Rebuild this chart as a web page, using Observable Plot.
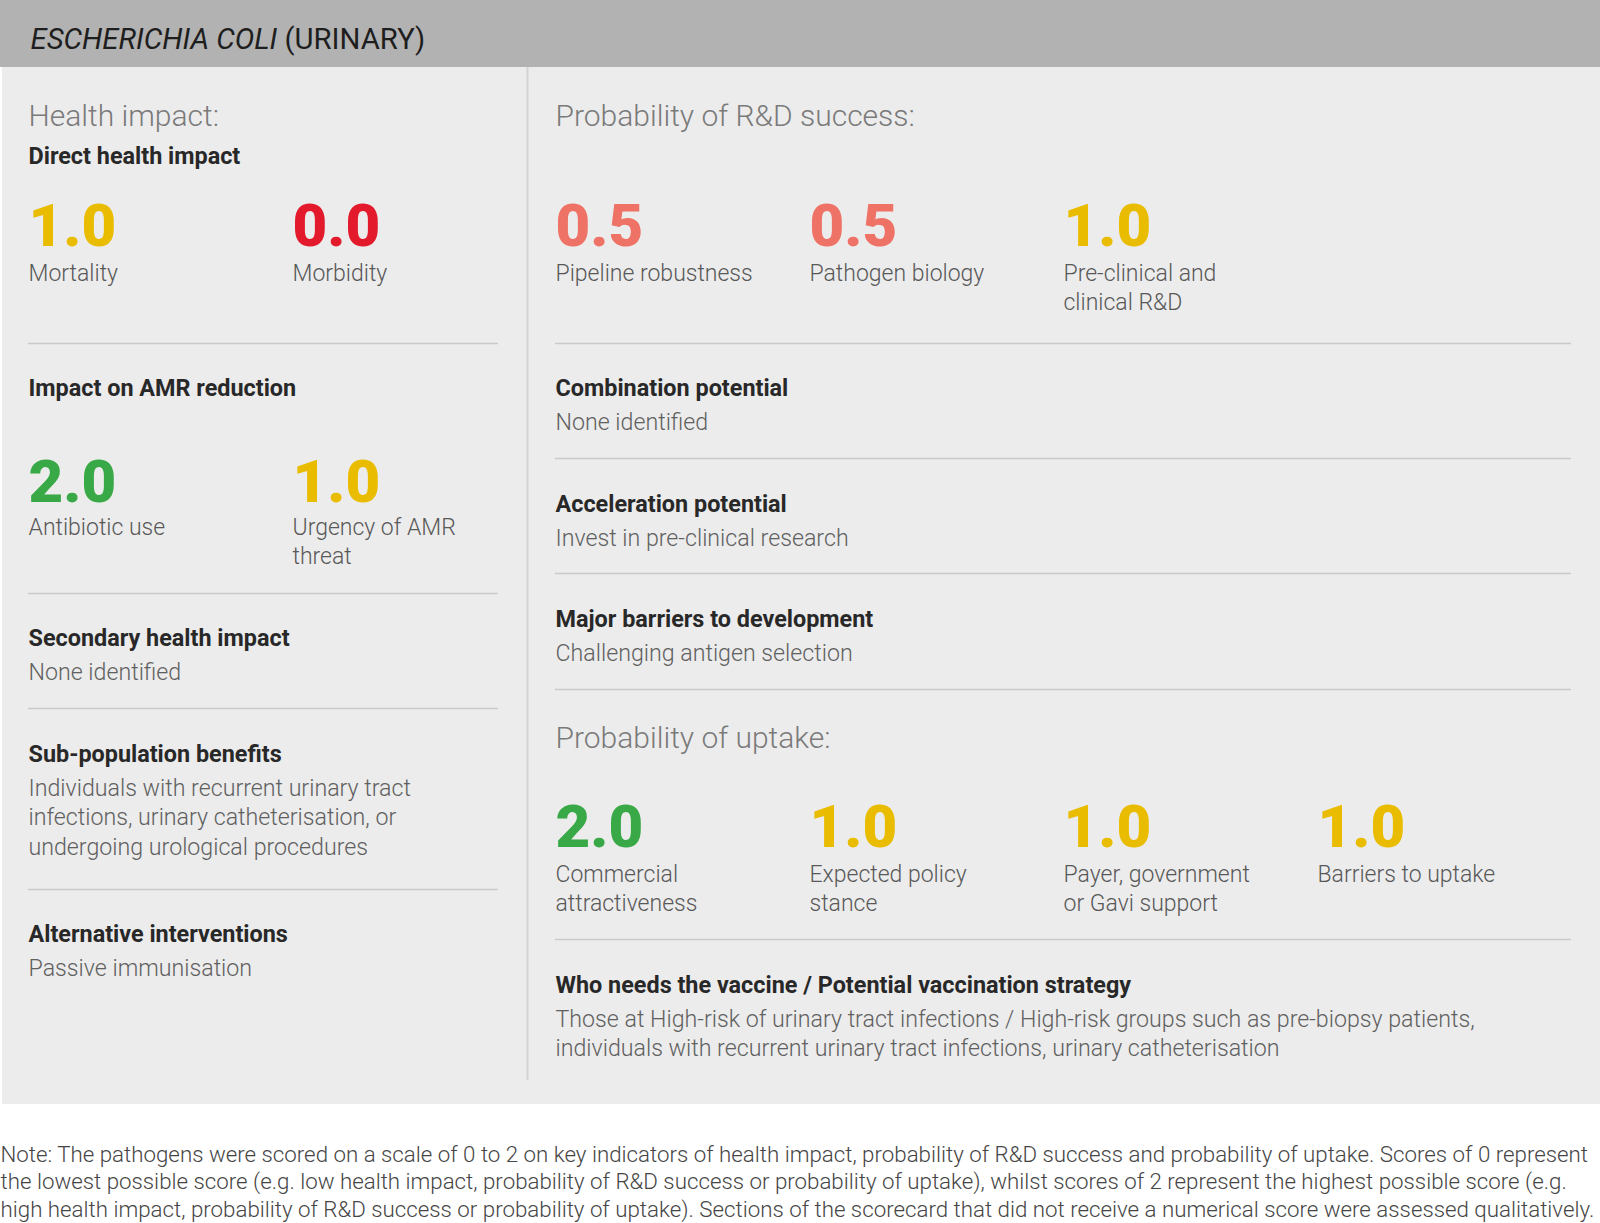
<!DOCTYPE html>
<html>
<head>
<meta charset="utf-8">
<script src="https://cdn.jsdelivr.net/npm/d3@7"></script>
<script src="https://cdn.jsdelivr.net/npm/@observablehq/plot@0.6"></script>
<style>
  html, body { margin: 0; padding: 0; background: #ffffff; }
  #chart svg { display: block; }
</style>
</head>
<body>
<div id="chart"></div>
<script>
// ---------------- DATA ----------------
const titleItalic = "ESCHERICHIA COLI";
const titleRest = " (URINARY)";

const sectionTitles = ["Health impact:", "Probability of R&D success:", "Probability of uptake:"];

const healthHeading = "Direct health impact";
const healthLabels = ["Mortality", "Morbidity"];
const healthScores = [1.0, 0.0];

const amrHeading = "Impact on AMR reduction";
const amrLabels = ["Antibiotic use", "Urgency of AMR\nthreat"];
const amrScores = [2.0, 1.0];

const rdLabels = ["Pipeline robustness", "Pathogen biology", "Pre-clinical and\nclinical R&D"];
const rdScores = [0.5, 0.5, 1.0];

const uptakeLabels = ["Commercial\nattractiveness", "Expected policy\nstance", "Payer, government\nor Gavi support", "Barriers to uptake"];
const uptakeScores = [2.0, 1.0, 1.0, 1.0];

const leftHeadings = ["Secondary health impact", "Sub-population benefits", "Alternative interventions"];
const leftTexts = [
  "None identified",
  "Individuals with recurrent urinary tract\ninfections, urinary catheterisation, or\nundergoing urological procedures",
  "Passive immunisation"
];

const rightHeadings = ["Combination potential", "Acceleration potential", "Major barriers to development"];
const rightTexts = ["None identified", "Invest in pre-clinical research", "Challenging antigen selection"];

const strategyHeading = "Who needs the vaccine / Potential vaccination strategy";
const strategyText = "Those at High-risk of urinary tract infections / High-risk groups such as pre-biopsy patients,\nindividuals with recurrent urinary tract infections, urinary catheterisation";

const noteLines = [
  "Note: The pathogens were scored on a scale of 0 to 2 on key indicators of health impact, probability of R&D success and probability of uptake. Scores of 0 represent",
  "the lowest possible score (e.g. low health impact, probability of R&D success or probability of uptake), whilst scores of 2 represent the highest possible score (e.g.",
  "high health impact, probability of R&D success or probability of uptake). Sections of the scorecard that did not receive a numerical score were assessed qualitatively."
];

const scoreDomain = [0, 0.5, 1, 2];
const scoreColors = ["#e21a2c", "#ee7366", "#e9bc00", "#39a846"];

// ---------------- LAYOUT ----------------
const W = 1600, H = 1223;
const L = {
  headerH: 67, panelBottom: 1104, panelX: 2,
  leftX: 28, leftColW: 264, leftEnd: 498,
  rightX: 555, rightColW: 254, rightEnd: 1571,
  dividerX: 527, dividerBottom: 1080,
  titleX: 30, titleBase: 48.5, titleSize: 29.3,
  sectionSize: 30, headSize: 23.4, labelSize: 23, bodySize: 23.2, scoreSize: 60, noteSize: 22.3,
  labelLH: 29.3, bodyLH: 29.3, noteLH: 27.6,
  bodyGap: 34
};

// rows of score tiles
const tileRow = (scores, labels, x0, colW, scoreBase, labelBase) =>
  scores.map((s, i) => ({score: s, label: labels[i], x: x0 + i * colW, scoreBase, labelBase}));

const tiles = [
  ...tileRow(healthScores, healthLabels, L.leftX, L.leftColW, 245, 280.5),
  ...tileRow(amrScores, amrLabels, L.leftX, L.leftColW, 501, 534),
  ...tileRow(rdScores, rdLabels, L.rightX, L.rightColW, 245, 280.5),
  ...tileRow(uptakeScores, uptakeLabels, L.rightX, L.rightColW, 846, 881)
];

const sections = [
  {text: sectionTitles[0], x: L.leftX, base: 125},
  {text: sectionTitles[1], x: L.rightX, base: 125},
  {text: sectionTitles[2], x: L.rightX, base: 747.5}
];

const headBases = {left: [645, 761, 941], right: [395, 511, 626]};
const headings = [
  {text: healthHeading, x: L.leftX, base: 163},
  {text: amrHeading, x: L.leftX, base: 395},
  ...leftHeadings.map((t, i) => ({text: t, x: L.leftX, base: headBases.left[i]})),
  ...rightHeadings.map((t, i) => ({text: t, x: L.rightX, base: headBases.right[i]})),
  {text: strategyHeading, x: L.rightX, base: 992}
];
const bodies = [
  ...leftTexts.map((t, i) => ({text: t, x: L.leftX, base: headBases.left[i] + L.bodyGap + 0.5})),
  ...rightTexts.map((t, i) => ({text: t, x: L.rightX, base: headBases.right[i] + L.bodyGap + 0.5})),
  {text: strategyText, x: L.rightX, base: 992 + L.bodyGap + 0.5}
];

const leftSeps = [343, 593, 708, 889];
const rightSeps = [343, 458, 573, 689, 939];

const notes = noteLines.map((t, i) => ({text: t, x: 0, base: 1161 + i * L.noteLH}));

const bands = [
  {x1: 0, x2: W, y1: 0, y2: L.headerH, fill: "#b2b2b2"},
  {x1: L.panelX, x2: W, y1: L.headerH, y2: L.panelBottom, fill: "#ececec"}
];

// measure the italic part of the title to place the rest
const ctx = document.createElement("canvas").getContext("2d");
ctx.font = `italic 400 ${L.titleSize}px Roboto`;
const italicW = ctx.measureText(titleItalic).width;

// text mark helper: "base" = first-line baseline
function txt(data, {size, weight = 300, color, lh, style = "normal", text = "text"}) {
  const lineHeight = lh / size;
  return Plot.text(data, {
    x: "x",
    y: d => d.base - 0.71 * lineHeight * size,
    text,
    textAnchor: "start",
    lineAnchor: "top",
    lineHeight,
    fontSize: size,
    fontWeight: weight,
    fontStyle: style,
    fontFamily: "Roboto",
    fill: color
  });
}

const chart = Plot.plot({
  width: W,
  height: H,
  margin: 0,
  x: {type: "identity", axis: null},
  y: {type: "identity", axis: null},
  color: {type: "ordinal", domain: scoreDomain, range: scoreColors},
  style: {fontFamily: "Roboto", background: "transparent"},
  marks: [
    Plot.rect(bands, {x1: "x1", x2: "x2", y1: "y1", y2: "y2", fill: d => d.fill}),
    Plot.ruleX([L.dividerX], {y1: L.headerH, y2: L.dividerBottom, stroke: "#d2d2d2", strokeWidth: 2}),
    Plot.ruleY(leftSeps, {x1: L.leftX, x2: L.leftEnd, stroke: "#c9c9c9", strokeWidth: 1.5}),
    Plot.ruleY(rightSeps, {x1: L.rightX, x2: L.rightEnd, stroke: "#c9c9c9", strokeWidth: 1.5}),
    // title
    txt([{text: titleItalic, x: L.titleX, base: L.titleBase}], {size: L.titleSize, weight: 400, style: "italic", color: "#1e1e1e", lh: L.titleSize}),
    txt([{text: titleRest, x: L.titleX + italicW, base: L.titleBase}], {size: L.titleSize, weight: 400, color: "#1e1e1e", lh: L.titleSize}),
    // section titles
    txt(sections, {size: L.sectionSize, weight: 300, color: "#7a7a7a", lh: L.sectionSize}),
    // bold headings
    txt(headings, {size: L.headSize, weight: 700, color: "#282828", lh: L.headSize}),
    // body texts
    txt(bodies, {size: L.bodySize, weight: 300, color: "#606060", lh: L.bodyLH}),
    // scores
    Plot.text(tiles, {
      x: "x", y: "scoreBase", text: d => d.score.toFixed(1), fill: "score",
      textAnchor: "start", lineAnchor: "bottom",
      fontSize: L.scoreSize, fontWeight: 900, fontFamily: "Roboto"
    }),
    // score labels
    Plot.text(tiles, {
      x: "x", y: d => d.labelBase - 0.71 * L.labelLH, text: "label",
      textAnchor: "start", lineAnchor: "top", lineHeight: L.labelLH / L.labelSize,
      fontSize: L.labelSize, fontWeight: 300, fontFamily: "Roboto", fill: "#585858"
    }),
    // note
    txt(notes, {size: L.noteSize, weight: 300, color: "#454545", lh: L.noteSize})
  ]
});

document.getElementById("chart").appendChild(chart);
</script>
</body>
</html>
